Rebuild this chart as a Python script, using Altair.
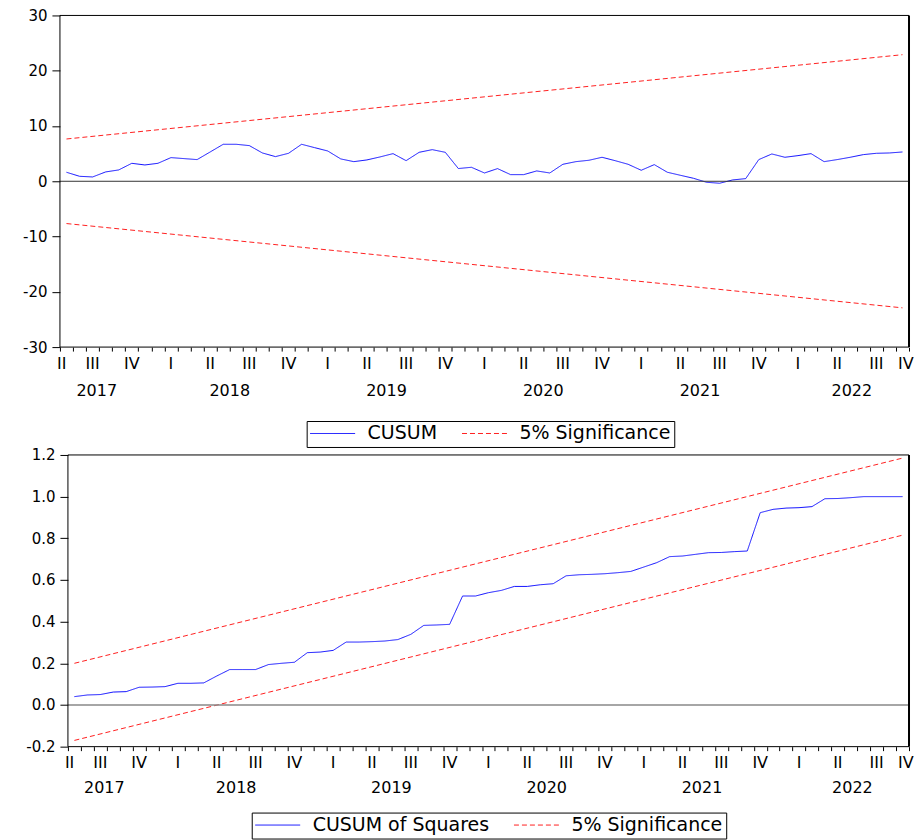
import altair as alt
import pandas as pd

# ---------------- data (monthly observations, May 2017 .. Sep 2022) ----------------
first_year, first_month = 2017, 5
n_obs = 65

cusum = [1.63, 0.90, 0.78, 1.69, 2.05, 3.25, 2.95, 3.25, 4.28, 4.10,
         3.92, 5.30, 6.69, 6.69, 6.45, 5.12, 4.46, 5.06, 6.69, 6.08,
         5.48, 4.04, 3.55, 3.86, 4.40, 5.00, 3.73, 5.24, 5.72, 5.24,
         2.30, 2.53, 1.50, 2.29, 1.20, 1.20, 1.87, 1.50, 3.07, 3.55,
         3.80, 4.34, 3.73, 3.07, 1.99, 3.01, 1.63, 1.08, 0.54, -0.18,
         -0.36, 0.24, 0.48, 3.92, 4.94, 4.34, 4.64, 5.00, 3.55, 3.92,
         4.34, 4.82, 5.06, 5.12, 5.30]

cusumsq = [0.040, 0.048, 0.050, 0.062, 0.064, 0.085, 0.086, 0.088, 0.104, 0.104,
           0.106, 0.139, 0.170, 0.170, 0.170, 0.194, 0.200, 0.205, 0.251, 0.254,
           0.262, 0.302, 0.302, 0.304, 0.307, 0.314, 0.339, 0.382, 0.384, 0.387,
           0.523, 0.523, 0.539, 0.550, 0.569, 0.569, 0.577, 0.582, 0.620, 0.625,
           0.627, 0.630, 0.635, 0.641, 0.662, 0.683, 0.712, 0.715, 0.723, 0.731,
           0.732, 0.736, 0.739, 0.923, 0.939, 0.945, 0.947, 0.952, 0.990, 0.991,
           0.995, 1.000, 1.000, 1.000, 1.000]

# straight 5% significance bounds: values at first and last observation
bound_obs = [0, 64]
cusum_upper = [7.65, 22.9]
cusum_lower = [-7.65, -22.9]
cusumsq_upper = [0.200, 1.185]
cusumsq_lower = [-0.170, 0.815]

cusum_ticks = [-30, -20, -10, 0, 10, 20, 30]
cusumsq_ticks = [-0.2, 0.0, 0.2, 0.4, 0.6, 0.8, 1.0, 1.2]

roman = ["I", "II", "III", "IV"]
label_years = [2017, 2018, 2019, 2020, 2021, 2022]
first_quarter = 2  # 2017 starts at quarter II

SIG = "5% Significance"
FONT = "DejaVu Sans"
DASH = [5, 3]
BLUE, RED = "#1010ff", "#ff2020"

# ---------------- axis label tables ----------------
x_lo, x_hi = -0.5, n_obs - 0.5
q_rows = []
for yr in label_years:
    for q in range(1, 5):
        if yr == label_years[0] and q < first_quarter:
            continue
        m = (yr - first_year) * 12 + (3 * (q - 1) + 1) - first_month
        pos = min(max(m, -0.37), n_obs - 0.75)
        q_rows.append({"obs": pos, "label": roman[q - 1], "year": yr})
qdf = pd.DataFrame(q_rows)
ydf = qdf.groupby("year")["obs"].agg(["min", "max"]).reset_index()
ydf["obs"] = (ydf["min"] + ydf["max"]) / 2
ydf["label"] = ydf["year"].astype(str)

tick_vals = [k - 0.5 for k in range(n_obs + 1)]


def make_df(main, name, up, lo):
    rows = [{"obs": i, "value": v, "series": name, "part": "main"} for i, v in enumerate(main)]
    rows += [{"obs": o, "value": v, "series": SIG, "part": "upper"} for o, v in zip(bound_obs, up)]
    rows += [{"obs": o, "value": v, "series": SIG, "part": "lower"} for o, v in zip(bound_obs, lo)]
    return pd.DataFrame(rows)


def panel(df, name, ydom, yticks, fmt, plot_w, inset, height, zero_color, zero_w,
          leg_x, leg_y, q_off, y_off):
    # the view is (plot_w + inset) wide; the framed plot starts `inset` px from its left
    per_px = (x_hi - x_lo) / plot_w
    dom_lo = x_lo - inset * per_px
    x = alt.X("obs:Q", title=None,
              scale=alt.Scale(domain=[dom_lo, x_hi], nice=False, zero=False),
              axis=alt.Axis(values=tick_vals, labels=False, tickSize=4, domain=False,
                            grid=False, tickColor="black", tickWidth=1))
    lab = f"datum.value < 0 ? '-' + format(-datum.value, '{fmt}') : format(datum.value, '{fmt}')"
    y = alt.Y("value:Q", title=None,
              scale=alt.Scale(domain=ydom, nice=False, zero=False),
              axis=alt.Axis(values=yticks, labelExpr=lab, tickSize=8, tickColor="black",
                            labelPadding=5, domain=False, grid=False, offset=-inset,
                            minExtent=52, maxExtent=52,
                            labelFont=FONT, labelFontSize=15, labelColor="black"))
    dash_expr = f"datum.value === '{SIG}' ? [{DASH[0]}, {DASH[1]}] : [1, 0]"
    stroke_expr = f"datum.value === '{SIG}' ? '{RED}' : '{BLUE}'"
    leg = alt.Legend(orient="none", legendX=leg_x, legendY=leg_y, direction="horizontal",
                     title=None, symbolType="stroke", symbolSize=2025, symbolStrokeWidth=1,
                     symbolDash=alt.ExprRef(expr=dash_expr),
                     symbolStrokeColor=alt.ExprRef(expr=stroke_expr),
                     clipHeight=19, labelFont=FONT, labelFontSize=19, labelColor="black",
                     labelLimit=600, gridAlign="none",
                     strokeColor="black", fillColor="white", padding=3,
                     columnPadding=24, labelOffset=12)
    color = alt.Color("series:N", legend=leg,
                      scale=alt.Scale(domain=[name, SIG], range=[BLUE, RED]))
    dash = alt.StrokeDash("series:N", legend=None,
                          scale=alt.Scale(domain=[name, SIG], range=[[1, 0], DASH]))

    lines = alt.Chart(df).mark_line(strokeWidth=1).encode(
        x=x, y=y, color=color, strokeDash=dash, detail="part:N")

    # plot frame
    frame_h = pd.DataFrame({"obs": [x_lo, x_lo], "obs2": [x_hi, x_hi], "value": ydom})
    frame_l = pd.DataFrame({"obs": [x_lo]})
    frame_r = pd.DataFrame({"obs": [x_hi]})
    fh = alt.Chart(frame_h).mark_rule(stroke="black", strokeWidth=1).encode(
        x=x, x2="obs2:Q", y=y)
    fl = alt.Chart(frame_l).mark_rule(stroke="black", strokeWidth=1).encode(x=x)
    fr = alt.Chart(frame_r).mark_rule(stroke="black", strokeWidth=2).encode(x=x)

    zero = alt.Chart(pd.DataFrame({"obs": [x_lo], "obs2": [x_hi], "value": [0]})).mark_rule(
        stroke=zero_color, strokeWidth=zero_w).encode(x=x, x2="obs2:Q", y=y)
    qtxt = alt.Chart(qdf).mark_text(font=FONT, fontSize=16, fill="black",
                                    baseline="middle", align="center").encode(
        x=x, y=alt.value(height + q_off), text="label:N")
    ytxt = alt.Chart(ydf).mark_text(font=FONT, fontSize=16, fill="black",
                                    baseline="middle", align="center").encode(
        x=x, y=alt.value(height + y_off), text="label:N")
    return alt.layer(lines, zero, fh, fl, fr, qtxt, ytxt).properties(
        width=plot_w + inset, height=height, view=alt.ViewConfig(stroke=None))


top = panel(make_df(cusum, "CUSUM", cusum_upper, cusum_lower), "CUSUM",
            [-30, 30], cusum_ticks, "d", 850, 0, 332, "#333333", 1,
            247, 406, 17, 44)
bottom = panel(make_df(cusumsq, "CUSUM of Squares", cusumsq_upper, cusumsq_lower),
               "CUSUM of Squares", [-0.2, 1.2], cusumsq_ticks, ".1f", 842, 8, 292,
               "#888888", 1.5, 192, 358, 16, 41)

chart = alt.concat(top, bottom, columns=1, spacing=0, align="none").resolve_scale(
    color="independent", strokeDash="independent").resolve_legend(
    color="independent", strokeDash="independent").properties(
    padding=0, background="white").configure_view(stroke=None)

chart.save("out.html", embed_options={"renderer": "svg", "actions": False})
